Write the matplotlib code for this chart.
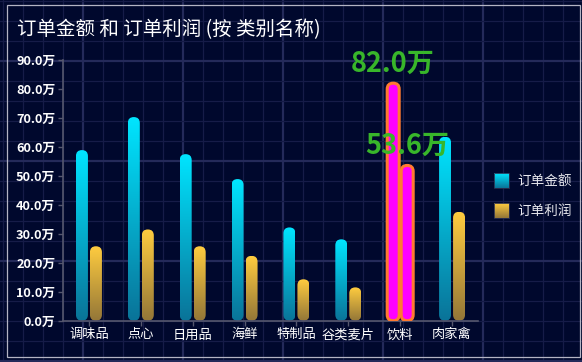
import numpy as np
import matplotlib
matplotlib.use('Agg')
import matplotlib.pyplot as plt
from matplotlib.patches import FancyBboxPatch, Rectangle
from matplotlib.colors import LinearSegmentedColormap

plt.rcParams['font.family'] = ['Noto Sans CJK SC', 'DejaVu Sans']

# data (values in 万)
categories = ['调味品', '点心', '日用品', '海鲜', '特制品', '谷类麦片', '饮料', '肉家禽']
amount = [58.9, 70.3, 57.5, 48.9, 32.2, 28.1, 82.0, 63.5]
profit = [25.7, 31.5, 25.7, 22.4, 14.3, 11.5, 53.6, 37.6]
series_names = ['订单金额', '订单利润']
highlight = '饮料'

W, H = 582, 362
BG = '#00082d'
cmap_amt = LinearSegmentedColormap.from_list('amt', ['#0a7398', '#00e5ff'])
cmap_pro = LinearSegmentedColormap.from_list('pro', ['#937638', '#ffcc3f'])
grad = np.linspace(0, 1, 256).reshape(-1, 1)

fig = plt.figure(figsize=(W / 100, H / 100), dpi=100)
fig.patch.set_facecolor(BG)

# background grid, border, legend in pixel coords
bg = fig.add_axes([0, 0, 1, 1])
bg.set_xlim(0, W)
bg.set_ylim(H, 0)
bg.axis('off')
bg.add_patch(Rectangle((0, 0), W, H, color=BG, zorder=0))
for x in range(3, W, 20):
    thick = (x - 83) % 100 == 0
    bg.plot([x, x], [0, H], color='#242a5a' if thick else '#161c48',
            lw=1.6 if thick else 0.9, zorder=1)
for y in range(1, H, 20):
    thick = (y - 61) % 100 == 0
    bg.plot([0, W], [y, y], color='#242a5a' if thick else '#161c48',
            lw=1.6 if thick else 0.9, zorder=1)
bg.add_patch(Rectangle((7, 5), 573, 352, fill=False, ec='#b4b4c4', lw=0.9, zorder=2))

# legend
for i, (name, cm) in enumerate(zip(series_names, [cmap_amt, cmap_pro])):
    top = 173 + 30 * i
    bg.imshow(grad, extent=[494, 509, top + 15, top], origin='lower',
              cmap=cm, aspect='auto', zorder=3)
    bg.add_patch(Rectangle((494, top), 15, 15, fill=False, ec='#2a3050', lw=0.6, zorder=4))
    bg.text(517, top + 7.5, name, color='#e8e8ee', fontsize=9.8, va='center', ha='left')
bg.set_xlim(0, W)
bg.set_ylim(H, 0)

# title
fig.text(17 / W, 1 - 29.5 / H, '订单金额 和 订单利润 (按 类别名称)', color='white',
         fontsize=14, va='center', ha='left')

# main chart
x0, x1, yb, yt = 63, 478, 320.7, 60
ax = fig.add_axes([x0 / W, 1 - yb / H, (x1 - x0) / W, (yb - yt) / H])
ax.patch.set_alpha(0)
n = len(categories)
ymax = 90
ux = n / (x1 - x0)          # x units per pixel
uy = ymax / (yb - yt)       # y units per pixel
aspect = uy / ux
bw = 12 * ux
off = 7 * ux


def draw_bar(xc, h, cm, hl):
    left = xc - bw / 2
    box = FancyBboxPatch((left, 0), bw, h,
                         boxstyle=f"round,pad=0,rounding_size={bw / 2}",
                         mutation_aspect=aspect, zorder=3)
    if hl:
        box.set_facecolor('#ff00ff')
        box.set_edgecolor('#ff7a30')
        box.set_linewidth(2.2)
        ax.add_patch(box)
    else:
        box.set_facecolor('none')
        box.set_edgecolor('none')
        ax.add_patch(box)
        im = ax.imshow(grad, extent=[left, left + bw, 0, h], origin='lower',
                       cmap=cm, aspect='auto', zorder=2)
        im.set_clip_path(box)


for i, cat in enumerate(categories):
    hl = cat == highlight
    draw_bar(i - off, amount[i], cmap_amt, hl)
    draw_bar(i + off, profit[i], cmap_pro, hl)
    if hl:
        for xc, v in [(i - off, amount[i]), (i + off, profit[i])]:
            ax.annotate(f'{v:.1f}万', (xc, v), xytext=(0, 4), textcoords='offset points',
                        ha='center', va='bottom', color='#38b62a', fontsize=19.5,
                        fontweight='bold', zorder=5)

ax.set_xlim(-0.5, n - 0.5)
ax.set_ylim(0, ymax)
ax.set_xticks(range(n))
ax.set_xticklabels(categories)
yt_vals = list(range(0, ymax + 1, 10))
ax.set_yticks(yt_vals)
ax.set_yticklabels([f'{v:.1f}万' for v in yt_vals], fontweight='bold')
ax.tick_params(axis='both', colors='#55576e', labelcolor='white', length=3.5, width=1)
ax.tick_params(axis='y', labelsize=9.2, pad=2)
ax.tick_params(axis='x', labelsize=9.5, pad=2)
for s in ['top', 'right']:
    ax.spines[s].set_visible(False)
for s in ['left', 'bottom']:
    ax.spines[s].set_color('#55576e')
    ax.spines[s].set_linewidth(1.2)

fig.savefig('out.png', dpi=100, facecolor=BG)
